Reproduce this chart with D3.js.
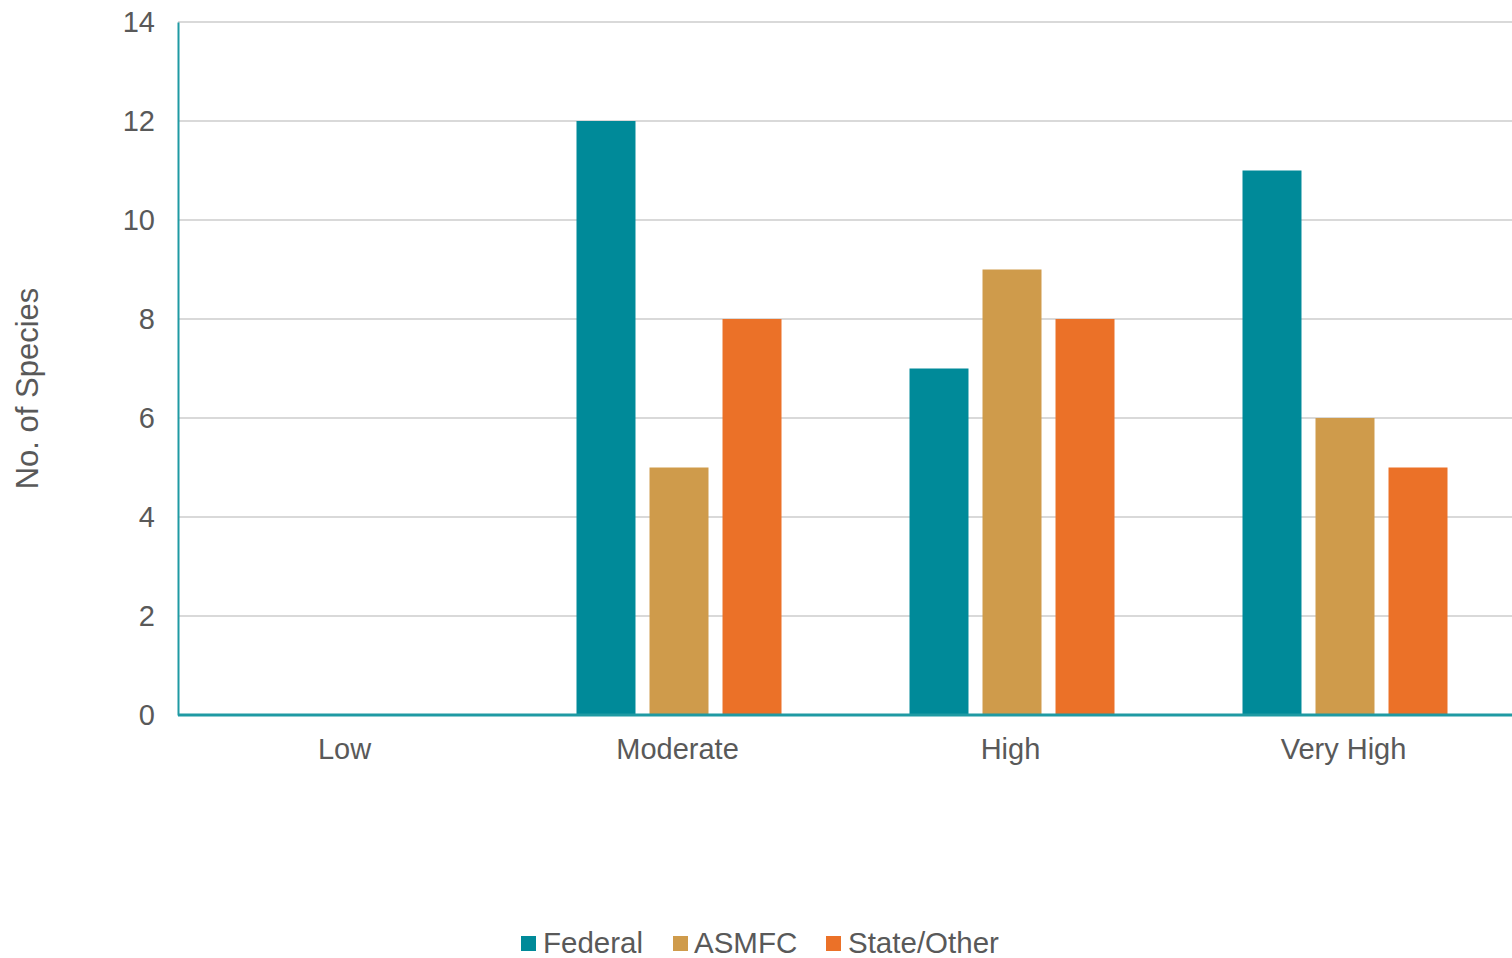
<!DOCTYPE html>
<html>
<head>
<meta charset="utf-8">
<script src="https://cdn.jsdelivr.net/npm/d3@7"></script>
<style>
  html, body { margin: 0; padding: 0; background: #fff; }
  svg text { font-family: "Liberation Sans", Arial, sans-serif; fill: #595959; }
</style>
</head>
<body>
<svg id="chart" width="1512" height="958"></svg>
<script>
const categories = ["Low", "Moderate", "High", "Very High"];
const seriesNames = ["Federal", "ASMFC", "State/Other"];
const federal = [0, 12, 7, 11];
const asmfc = [0, 5, 9, 6];
const stateOther = [0, 8, 8, 5];
const yTicks = [0, 2, 4, 6, 8, 10, 12, 14];
const colors = ["#008a99", "#cf9b4b", "#eb7128"];

const seriesValues = [federal, asmfc, stateOther];
const rows = categories.map((c, i) => ({
  category: c,
  values: seriesNames.map((s, j) => ({ series: s, value: seriesValues[j][i] }))
}));

const svg = d3.select("#chart");
const margin = { left: 178, right: 2, top: 22, bottom: 243 };
const W = 1512, H = 958;

const x0 = d3.scaleBand().domain(categories).range([margin.left, W - margin.right]).padding(0);
const groupWidth = 205;
const x1 = d3.scaleBand().domain(seriesNames).range([0, groupWidth]).paddingInner(0.192).paddingOuter(0);
const y = d3.scaleLinear().domain([0, 14]).range([H - margin.bottom, margin.top]);
const color = d3.scaleOrdinal().domain(seriesNames).range(colors);

// gridlines
svg.append("g").selectAll("line").data(yTicks.filter(t => t > 0)).join("line")
  .attr("x1", margin.left).attr("x2", W)
  .attr("y1", d => y(d)).attr("y2", d => y(d))
  .attr("stroke", "#d9d9d9").attr("stroke-width", 2);

// bars
const groups = svg.append("g").selectAll("g").data(rows).join("g")
  .attr("transform", d => `translate(${x0(d.category) + (x0.bandwidth() - groupWidth) / 2 + 1.5},0)`);
groups.selectAll("rect").data(d => d.values.filter(v => v.value > 0)).join("rect")
  .attr("x", d => x1(d.series))
  .attr("width", x1.bandwidth())
  .attr("y", d => y(d.value))
  .attr("height", d => y(0) - y(d.value))
  .attr("fill", d => color(d.series));

// y axis
const yAxis = svg.append("g").attr("transform", `translate(${margin.left},0)`)
  .call(d3.axisLeft(y).tickValues(yTicks).tickSize(0).tickPadding(23).tickFormat(d3.format("d")));
yAxis.select(".domain").attr("stroke", "#1f9aa3").attr("stroke-width", 2);
yAxis.selectAll("text").style("font-size", "29px").attr("fill", "#595959");

// x axis
const xAxis = svg.append("g").attr("transform", `translate(0,${y(0)})`)
  .call(d3.axisBottom(x0).tickSize(0).tickPadding(23));
xAxis.select(".domain").attr("stroke", "#1f9aa3").attr("stroke-width", 3)
  .attr("d", `M${margin.left},0H${W}`);
xAxis.selectAll("text").style("font-size", "29px").attr("fill", "#595959");

// y axis title
svg.append("text")
  .attr("transform", `translate(38,${(y(0) + y(14)) / 2 + 20}) rotate(-90)`)
  .attr("text-anchor", "middle")
  .style("font-size", "31px")
  .text("No. of Species");

// legend
const legendItems = [
  { name: "Federal", sx: 521, tx: 543 },
  { name: "ASMFC", sx: 673, tx: 694 },
  { name: "State/Other", sx: 826, tx: 848 }
];
const legend = svg.append("g");
legend.selectAll("rect").data(legendItems).join("rect")
  .attr("x", d => d.sx).attr("y", 936).attr("width", 15).attr("height", 15)
  .attr("fill", d => color(d.name));
legend.selectAll("text").data(legendItems).join("text")
  .attr("x", d => d.tx).attr("y", 953)
  .style("font-size", "29.5px")
  .text(d => d.name);
</script>
</body>
</html>
